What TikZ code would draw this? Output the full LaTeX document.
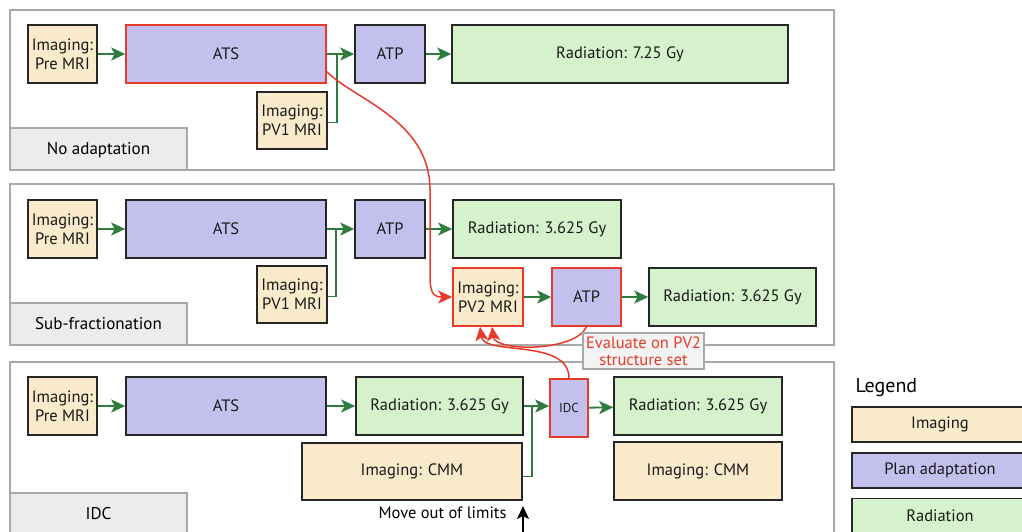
\documentclass[tikz,border=0pt]{standalone}
\usepackage{fontspec}
\setmainfont{PT Sans}
\usepackage{xcolor}
\usepackage{tikz}
\usetikzlibrary{positioning}
\usetikzlibrary{arrows.meta}
\usetikzlibrary{calc}
\definecolor{imgfill}{HTML}{F8EACB}
\definecolor{planfill}{HTML}{C4C0EE}
\definecolor{radfill}{HTML}{D6F2CC}
\definecolor{flowgreen}{HTML}{2E7D3F}
\definecolor{adaptred}{HTML}{E63B2A}
\definecolor{panelgray}{HTML}{A8A8A8}
\definecolor{labelfill}{HTML}{EBEDEC}
\definecolor{notefill}{HTML}{F3F3F3}
\tikzstyle{box}=[rectangle,draw=black!85,line width=1.6pt,align=center,inner sep=0pt,text=black!90,font=\fontsize{16.5}{19}\selectfont]
\tikzstyle{imaging}=[box,fill=imgfill]
\tikzstyle{plan}=[box,fill=planfill]
\tikzstyle{rad}=[box,fill=radfill]
\tikzstyle{adapted}=[draw=adaptred]
\tikzstyle{panel}=[draw=panelgray,line width=1.4pt]
\tikzstyle{panellabel}=[rectangle,draw=panelgray,line width=1.4pt,fill=labelfill,font=\fontsize{17}{20}\selectfont]
\tikzstyle{flow}=[draw=flowgreen,line width=1.8pt,-{Stealth[length=14pt,width=13pt,inset=3.5pt]}]
\tikzstyle{flowjoin}=[draw=flowgreen,line width=1.8pt]
\tikzstyle{adapt}=[draw=adaptred,line width=1.5pt,-{Stealth[length=14pt,width=13pt,inset=3.5pt]}]

\begin{document}
\begin{tikzpicture}[x=1pt,y=-1pt]

 \useasboundingbox (0,0) rectangle (1022,531);
 \clip (0,0) rectangle (1022,531);

 %panels
 \draw[panel] (10,10) rectangle (834,170);
 \draw[panel] (10,184) rectangle (834,345);
 \draw[panel] (10,362) rectangle (834,560);

 \foreach \x/\y/\name/\label in {98.5/149/lab1/No adaptation, 98.5/324/lab2/Sub-fractionation}
          \node[panellabel,minimum width=177pt,minimum height=42pt,text depth=2pt] (\name) at (\x,\y) {\label};
 \path[panellabel] (10,493) rectangle (187,560);
 \node[font=\fontsize{17}{20}\selectfont] (lab3) at (98.5,514) {IDC};

 %No adaptation
 \foreach \x/\y/\w/\h/\name/\label in {62.5/54/69/58/pre1/{Imaging:\\Pre MRI}, 292/120.5/70/57/pvone1/{Imaging:\\PV1 MRI}}
          \node[imaging,minimum width=\w pt,minimum height=\h pt] (\name) at (\x,\y) {\label};
 \foreach \x/\y/\w/\h/\name/\label in {226/54/200/58/ats1/ATS, 390/54/70/58/atp1/ATP}
          \node[plan,minimum width=\w pt,minimum height=\h pt] (\name) at (\x,\y) {\label};
 \node[rad,minimum width=336pt,minimum height=58pt] (rad1) at (620,54) {Radiation: 7.25 Gy};
 \node[adapted,rectangle,line width=1.6pt,minimum width=200pt,minimum height=58pt] at (226,54) {};

 \coordinate (join1) at (337,54);
 \foreach \source/ \dest in {pre1/ats1, ats1/atp1, atp1/rad1}
         \path[flow] (\source) -- (\dest);
 \path[flowjoin] ([yshift=-2pt]pvone1.east) -| (join1);

 %Sub-fractionation
 \foreach \x/\y/\w/\h/\name/\label in {62.5/229/69/58/pre2/{Imaging:\\Pre MRI}, 292/294.5/70/57/pvone2/{Imaging:\\PV1 MRI}}
          \node[imaging,minimum width=\w pt,minimum height=\h pt] (\name) at (\x,\y) {\label};
 \foreach \x/\y/\w/\h/\name/\label in {226/229/200/58/ats2/ATS, 390/229/70/58/atp2/ATP}
          \node[plan,minimum width=\w pt,minimum height=\h pt] (\name) at (\x,\y) {\label};
 \node[rad,minimum width=168pt,minimum height=58pt] (rad2) at (537,229) {Radiation: 3.625 Gy};

 \node[imaging,adapted,minimum width=70pt,minimum height=58pt] (pvtwo) at (488,297) {Imaging:\\PV2 MRI};
 \node[plan,adapted,minimum width=69pt,minimum height=58pt] (atp3) at (586.5,297) {ATP};
 \node[rad,minimum width=167pt,minimum height=58pt] (rad3) at (732.5,297) {Radiation: 3.625 Gy};

 \coordinate (join2) at (336,229);
 \foreach \source/ \dest in {pre2/ats2, ats2/atp2, atp2/rad2, pvtwo/atp3, atp3/rad3}
         \path[flow] (\source) -- (\dest);
 \path[flowjoin] ([yshift=-2pt]pvone2.east) -| (join2);

 %IDC
 \node[imaging,minimum width=69pt,minimum height=58pt] (pre3) at (62.5,406) {Imaging:\\Pre MRI};
 \node[plan,minimum width=200pt,minimum height=58pt] (ats3) at (226,406) {ATS};
 \node[rad,minimum width=167pt,minimum height=58pt] (rad4) at (439.5,406) {Radiation: 3.625 Gy};
 \node[imaging,minimum width=220pt,minimum height=57pt] (cmm1) at (412,471.5) {Imaging: CMM};
 \node[plan,adapted,minimum width=38pt,minimum height=58pt,font=\fontsize{13}{15}\selectfont] (idc) at (569,408) {IDC};
 \node[rad,minimum width=168pt,minimum height=58pt] (rad5) at (698,406) {Radiation: 3.625 Gy};
 \node[imaging,minimum width=168pt,minimum height=58pt] (cmm2) at (698,471) {Imaging: CMM};

 \coordinate (join3) at (532,406);
 \foreach \source/ \dest in {pre3/ats3, ats3/rad4, idc/rad5}
         \path[flow] (\source) -- (\dest);
 \path[flow] (rad4.east) -- (idc.west |- rad4.east);
 \path[flowjoin] ([yshift=-5pt]cmm1.east) -| (join3);

 \node[left,font=\fontsize{16.5}{19}\selectfont] (movenote) at (510,513) {Move out of limits};
 \coordinate (movefoot) at (523,535);
 \coordinate (movetip) at (523,506);
 \draw[line width=1.6pt,-{Stealth[length=13pt,width=12pt,inset=3pt]}] (movefoot) -- (movetip);

 %adaptation paths
 \draw[adapt] (ats1.-10) .. controls (355,100) and (430,120) .. (430,190) -- (430,276)
        .. controls (430,297) and (436,297) .. (pvtwo.west);
 \draw[adapt] (atp3.south) .. controls (575,352) and (495,352) .. ([xshift=4pt]pvtwo.south);
 \draw[adapt] (idc.north) .. controls (569,338) and (484,356) .. ([xshift=-8pt]pvtwo.south);

 \node[draw=panelgray,line width=1.4pt,fill=notefill,text=adaptred,align=center,inner sep=2pt,
       minimum width=121pt,minimum height=36pt,font=\fontsize{16.5}{17}\selectfont] (evalnote) at (643.5,351) {Evaluate on PV2\\structure set};

 %Legend
 \node[anchor=west,font=\fontsize{20}{24}\selectfont] (legend) at (852,388) {Legend};
 \foreach \y/\h/\name/\kind/\label in {424.5/35/legimg/imaging/Imaging, 470.5/35/legplan/plan/Plan adaptation, 516/35/legrad/rad/Radiation}
          \node[\kind,minimum width=176pt,minimum height=\h pt] (\name) at (940,\y) {\label};

\end{tikzpicture}
\end{document}
